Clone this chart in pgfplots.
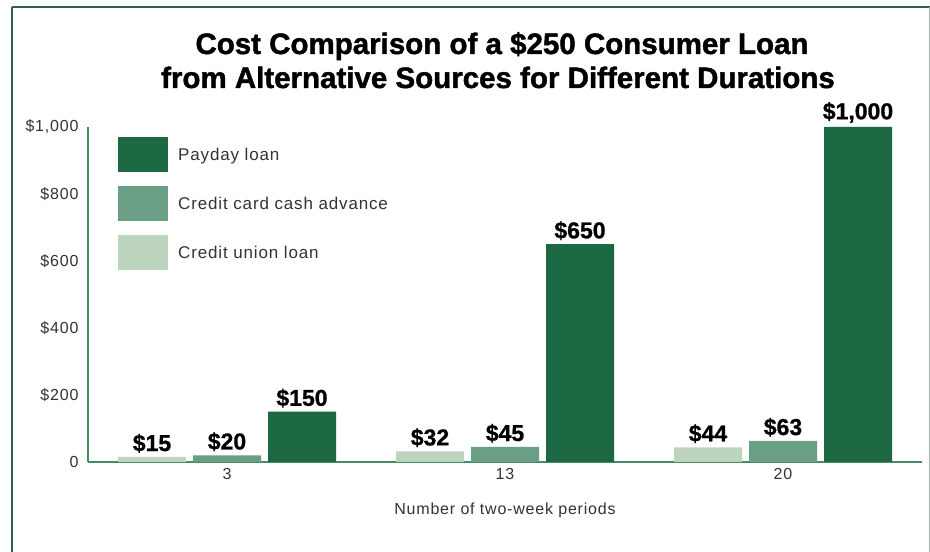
\documentclass[border=0pt]{standalone}
\usepackage{fontspec}
\setmainfont{Liberation Sans}
\newfontfamily\labfont[LetterSpace=5]{Liberation Sans}
\newfontfamily\ttlfont[FakeBold=1.5]{Liberation Sans Bold}
\newfontfamily\numfont[FakeBold=1]{Liberation Sans Bold}
\usepackage{pgfplots}
\pgfplotsset{compat=1.18}
\definecolor{payday}{RGB}{27,104,66}
\definecolor{card}{RGB}{107,159,133}
\definecolor{union}{RGB}{189,213,191}
\definecolor{axgreen}{RGB}{70,140,100}
\definecolor{framedark}{RGB}{40,100,75}
\definecolor{framelight}{RGB}{160,185,172}
\begin{document}
\begin{tikzpicture}[x=1pt,y=1pt]
\useasboundingbox (0,0) rectangle (930,552);
\fill[white] (0,0) rectangle (930,552);
\draw[framedark, line width=2pt] (12,545) -- (930,545);
\draw[framedark, line width=1.2pt] (12,545) -- (12,0);
\draw[framelight, line width=1pt] (929,545) -- (929,0);
\node[anchor=base, font=\ttlfont\fontsize{29.5}{33}\selectfont] at (502,498) {Cost Comparison of a \$250 Consumer Loan};
\node[anchor=base, font=\ttlfont\fontsize{29.5}{33}\selectfont] at (498,464) {from Alternative Sources for Different Durations};
\begin{axis}[
  at={(88pt,90pt)}, anchor=south west,
  scale only axis, width=834pt, height=335pt,
  xmin=-0.5, xmax=2.5, ymin=0, ymax=1000,
  axis x line*=bottom, axis y line*=left,
  axis line style={axgreen, line width=1.2pt, -},
  major tick length=0pt,
  xtick={0,1,2}, xticklabels={3,13,20},
  ytick={0,200,400,600,800,1000},
  yticklabels={0,\$200,\$400,\$600,\$800,{\$1,000}},
  tick label style={font=\labfont\fontsize{16}{19}\selectfont, text=black!80},
  yticklabel style={xshift=-6pt},
  xticklabel style={yshift=-3pt},
  xlabel={Number of two-week periods},
  xlabel style={font=\labfont\fontsize{16}{19}\selectfont, text=black!80, yshift=-16pt},
  ybar=7pt,
  bar width=68pt,
  nodes near coords={\pgfplotspointmeta},
  point meta=explicit symbolic,
  every node near coord/.append style={font=\numfont\fontsize{23}{26}\selectfont, anchor=south, inner sep=1pt, yshift=3pt},
  legend style={at={(rel axis cs:0.036,0.97)}, anchor=north west, draw=none, fill=none,
    font=\labfont\fontsize{17}{20}\selectfont, text=black!80, row sep=14pt, inner sep=0pt,
    column sep=8pt},
  legend cell align=left,
  reverse legend,
  legend image code/.code={\fill[#1] (0pt,-17.5pt) rectangle (50pt,17.5pt);},
]
\addplot[fill=union, draw=none] coordinates {(0,15) [\$15] (1,32) [\$32] (2,44) [\$44]};
\addplot[fill=card, draw=none] coordinates {(0,20) [\$20] (1,45) [\$45] (2,63) [\$63]};
\addplot[fill=payday, draw=none] coordinates {(0,150) [\$150] (1,650) [\$650] (2,1000) [{\$1,000}]};
\legend{Credit union loan, Credit card cash advance, Payday loan}
\end{axis}
\end{tikzpicture}
\end{document}
